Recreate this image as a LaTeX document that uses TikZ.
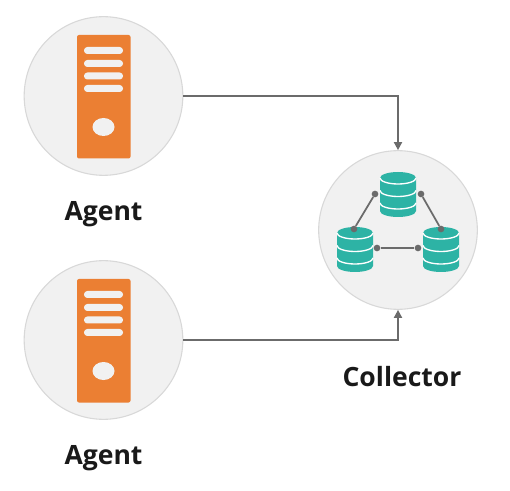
\documentclass[tikz,border=0pt]{standalone}
\usepackage{fontspec}
\setmainfont{Open Sans}
\definecolor{discgray}{HTML}{F1F1F1}
\definecolor{rimgray}{HTML}{D8D8D8}
\definecolor{linegray}{HTML}{6B6B6B}
\definecolor{serverorange}{HTML}{EB7F33}
\definecolor{dbteal}{HTML}{2DB3A5}
\usetikzlibrary{arrows.meta}
\tikzset{
  disc/.style={circle,draw=rimgray,fill=discgray,line width=0.8pt,minimum size=119pt,inner sep=0pt},
  caption/.style={font=\fontsize{19.9}{22}\selectfont\bfseries,text=black!90,inner sep=0pt},
  wire/.style={draw=linegray,line width=1.3pt},
  flow/.style={wire,-{Triangle[length=6pt,width=6pt]}},
  dot/.style={circle,fill=linegray,minimum size=5pt,inner sep=0pt}
}
\begin{document}
\begin{tikzpicture}[x=0.75pt,y=-0.75pt]
  \useasboundingbox (0,0) rectangle (510,491);

  % Discs
  \node[disc] (agentA) at (103.5,96) {};
  \node[disc] (agentB) at (103.5,340) {};
  \node[disc] (collector) at (398,230) {};

  % Servers
  \foreach \sy in {0,244}{
    \begin{scope}[yshift=-\sy*0.75pt]
      \fill[serverorange,rounded corners=1.5pt] (77,35) rectangle (130.5,158.5);
      \foreach \by in {47,60,72.5,85}
        \fill[discgray,rounded corners=2.5pt] (84,\by) rectangle (123,\by+7);
      \fill[discgray] (103.5,127) ellipse [x radius=11,y radius=9];
    \end{scope}
  }

  % Databases
  \foreach \dx/\dy in {398/172,355/227,441/227}{
    \begin{scope}[xshift=\dx*0.75pt,yshift=-\dy*0.75pt]
      \fill[dbteal] (-18,6) arc [start angle=180,end angle=360,x radius=18,y radius=6]
        -- (18,39) arc [start angle=0,end angle=180,x radius=18,y radius=6] -- cycle;
      \foreach \ay in {6,18.5,31}
        \draw[white,line width=1pt] (-18,\ay) arc [start angle=180,end angle=0,x radius=18,y radius=6];
    \end{scope}
  }

  % Links
  \node[dot] (topL) at (375,194) {};
  \node[dot] (leftT) at (354,229) {};
  \node[dot] (topR) at (421,194) {};
  \node[dot] (rightT) at (441,229) {};
  \node[dot] (leftR) at (377,248) {};
  \node[dot] (rightL) at (418,248) {};
  \draw[wire] (topL) -- (leftT);
  \draw[wire] (topR) -- (rightT);
  \draw[wire] (leftR) -- (rightL);

  % Flows
  \draw[flow] (agentA.east) -| (collector.north);
  \draw[flow] (agentB.east) -| (collector.south);

  % Captions
  \node[caption] (labelA) at (103.5,214.5) {Agent};
  \node[caption] (labelB) at (103.5,458.5) {Agent};
  \node[caption] (labelC) at (402,376.5) {Collector};
\end{tikzpicture}
\end{document}
